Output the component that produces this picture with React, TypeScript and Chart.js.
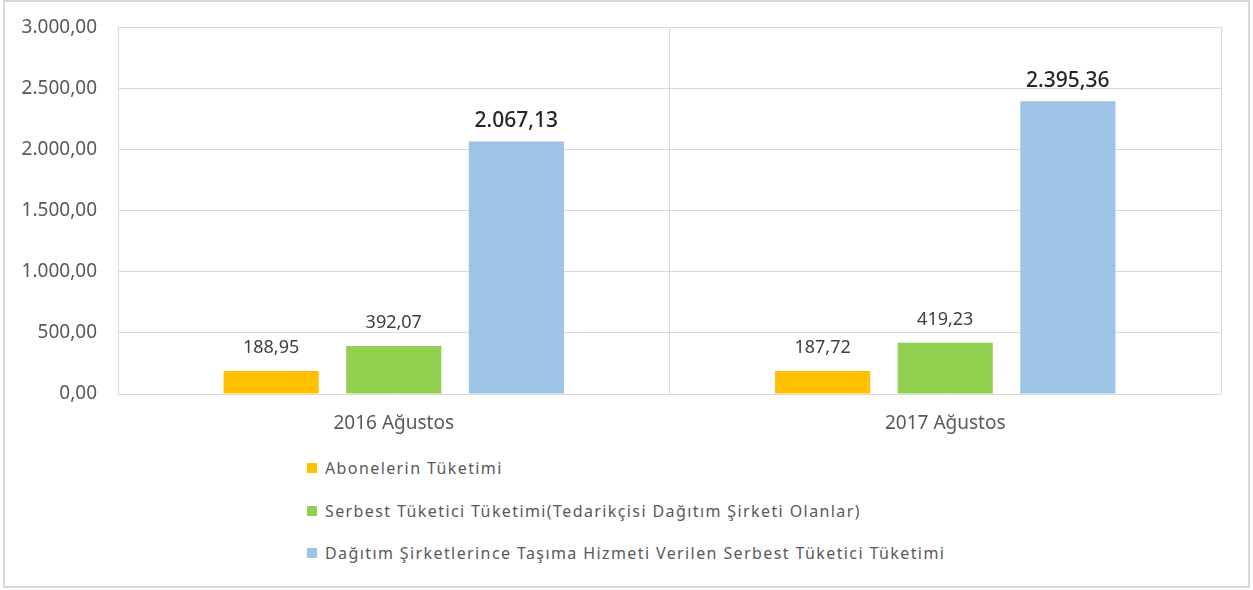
import React, { useEffect, useRef } from "react";
import { Chart, registerables } from "chart.js";

Chart.register(...registerables);

const categories = ["2016 Ağustos", "2017 Ağustos"];
const seriesNames = [
  "Abonelerin Tüketimi",
  "Serbest Tüketici Tüketimi(Tedarikçisi Dağıtım Şirketi Olanlar)",
  "Dağıtım Şirketlerince Taşıma Hizmeti Verilen Serbest Tüketici Tüketimi",
];
const abonelerValues = [188.95, 187.72];
const serbestValues = [392.07, 419.23];
const dagitimValues = [2067.13, 2395.36];
const seriesColors = ["#FFC000", "#92D050", "#9DC3E6"];
const yTicks = [0, 500, 1000, 1500, 2000, 2500, 3000];

const FONT = "'Noto Sans', 'Open Sans', sans-serif";

function fmtTR(v: number): string {
  const fixed = Math.abs(v).toFixed(2);
  const [intPart, dec] = fixed.split(".");
  const withDots = intPart.replace(/\B(?=(\d{3})+(?!\d))/g, ".");
  return (v < 0 ? "-" : "") + withDots + "," + dec;
}

const valueLabelPlugin = {
  id: "valueLabels",
  afterDatasetsDraw(chart: any) {
    const ctx = chart.ctx;
    chart.data.datasets.forEach((ds: any, di: number) => {
      const meta = chart.getDatasetMeta(di);
      const big = di === 2;
      meta.data.forEach((bar: any, i: number) => {
        ctx.save();
        ctx.font = (big ? "500 21px " : "18px ") + FONT;
        ctx.fillStyle = big ? "#262626" : "#404040";
        ctx.textAlign = "center";
        ctx.textBaseline = "bottom";
        ctx.fillText(fmtTR(ds.data[i]), bar.x, bar.y - (big ? 10 : 14));
        ctx.restore();
      });
    });
  },
};

export default function App() {
  const ref = useRef<HTMLCanvasElement>(null);
  useEffect(() => {
    const chart = new Chart(ref.current!, {
      type: "bar",
      data: {
        labels: categories,
        datasets: [abonelerValues, serbestValues, dagitimValues].map((d, i) => ({
          label: seriesNames[i],
          data: d,
          backgroundColor: seriesColors[i],
          borderWidth: 0,
          categoryPercentage: 0.667,
          barPercentage: 0.776,
        })),
      },
      options: {
        responsive: false,
        animation: false,
        events: [],
        layout: { padding: { left: 0, right: 32, top: 20, bottom: 0 } },
        plugins: { legend: { display: false }, tooltip: { enabled: false } },
        scales: {
          x: {
            offset: true,
            grid: { offset: true, color: "#d9d9d9", lineWidth: 1, drawTicks: false },
            border: { display: false },
            ticks: { color: "#595959", font: { family: FONT, size: 19 }, padding: 18 },
            afterFit(scale: any) {
              scale.height = 47;
            },
          },
          y: {
            min: 0,
            max: 3000,
            afterBuildTicks(scale: any) {
              scale.ticks = yTicks.map((v) => ({ value: v }));
            },
            grid: { color: "#d9d9d9", lineWidth: 1, drawTicks: false },
            border: { display: false },
            ticks: {
              color: "#595959",
              font: { family: FONT, size: 19 },
              padding: 21,
              callback: (v: any) => fmtTR(Number(v)),
            },
            afterFit(scale: any) {
              scale.width = 118;
            },
          },
        },
      },
      plugins: [valueLabelPlugin],
    });
    return () => chart.destroy();
  }, []);

  return (
    <div style={{ position: "fixed", left: 0, top: 0, width: 1253, height: 590, background: "#fff" }}>
      <div
        style={{
          position: "absolute",
          left: 3,
          top: 0,
          width: 1247,
          height: 588,
          border: "2px solid #d9d9d9",
          boxSizing: "border-box",
        }}
      />
      <canvas ref={ref} width={1253} height={446} style={{ position: "absolute", left: 0, top: -5 }} />
      <div
        style={{
          position: "absolute",
          left: 307,
          top: 456,
          fontFamily: FONT,
          fontSize: 16,
          letterSpacing: "1.4px",
          color: "#595959",
        }}
      >
        {seriesNames.map((n, i) => (
          <div key={n} style={{ display: "flex", alignItems: "center", height: 24, marginBottom: i < 2 ? 18.5 : 0 }}>
            <span style={{ display: "inline-block", width: 10, height: 10, background: seriesColors[i], marginRight: 8 }} />
            <span>{n}</span>
          </div>
        ))}
      </div>
    </div>
  );
}
